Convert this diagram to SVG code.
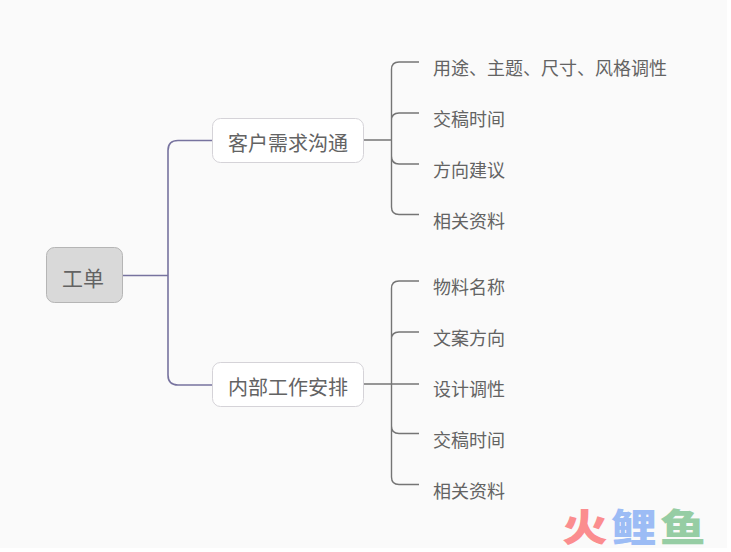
<svg xmlns="http://www.w3.org/2000/svg" width="731" height="552" viewBox="0 0 731 552">
<style>
text{font-family:"Noto Sans CJK SC","Noto Sans",sans-serif;fill:#636363}
.c1{fill:none;stroke:#77739f;stroke-width:1.6}
.c2{fill:none;stroke:#757575;stroke-width:1.4}
.n{fill:#fff;stroke:#d5d3d8;stroke-width:1}
.t2{font-size:20px;text-anchor:middle}
.t3{font-size:18px}
.w{font-size:38px;font-weight:900}
</style>
<rect x="0" y="0" width="731" height="552" fill="#fff"/>
<rect x="0" y="0" width="727" height="548" fill="#fafafa"/>
<g id="connectors">
<path class="c1" d="M123 275.500H168M213 140.500H178Q168 140.500 168 150.500V375Q168 385 178 385H213"/>
<path class="c2" d="M363 140H391.500M419 62H399Q391.500 62 391.500 69.500V207Q391.500 214.500 399 214.500H419M419 113H399Q391.500 113 391.500 120.500M391.500 156Q391.500 164 399 164H419"/>
<path class="c2" d="M363 384H419M419 281H399Q391.500 281 391.500 288.500V477Q391.500 484.500 399 484.500H419M419 332H399Q391.500 332 391.500 339.500M391.500 426Q391.500 433.500 399 433.500H419"/>
</g>
<g id="root"><rect x="46.500" y="247.500" width="76" height="55" rx="8" fill="#d9d9d9" stroke="#b5b5b5"/><text x="83" y="286" font-size="21" text-anchor="middle">工单</text></g>
<g id="n1"><rect class="n" x="212.500" y="118.500" width="151" height="44" rx="8"/><text class="t2" x="288" y="151">客户需求沟通</text></g>
<g id="n2"><rect class="n" x="212.500" y="362.500" width="151" height="44" rx="8"/><text class="t2" x="288" y="395">内部工作安排</text></g>
<g id="a1"><text class="t3" x="433" y="75">用途、主题、尺寸、风格调性</text></g>
<g id="a2"><text class="t3" x="433" y="126">交稿时间</text></g>
<g id="a3"><text class="t3" x="433" y="177">方向建议</text></g>
<g id="a4"><text class="t3" x="433" y="228">相关资料</text></g>
<g id="b1"><text class="t3" x="433" y="294">物料名称</text></g>
<g id="b2"><text class="t3" x="433" y="345">文案方向</text></g>
<g id="b3"><text class="t3" x="433" y="396">设计调性</text></g>
<g id="b4"><text class="t3" x="433" y="447">交稿时间</text></g>
<g id="b5"><text class="t3" x="433" y="498">相关资料</text></g>
<g id="watermark">
<text class="w" transform="translate(562 541) scale(1.2 1)" style="fill:#fb8d8f">火</text>
<text class="w" transform="translate(611 541) scale(1.2 1)" style="fill:#9cbcf5">鲤</text>
<text class="w" transform="translate(660 541) scale(1.2 1)" style="fill:#96cda4">鱼</text>
</g>
</svg>
